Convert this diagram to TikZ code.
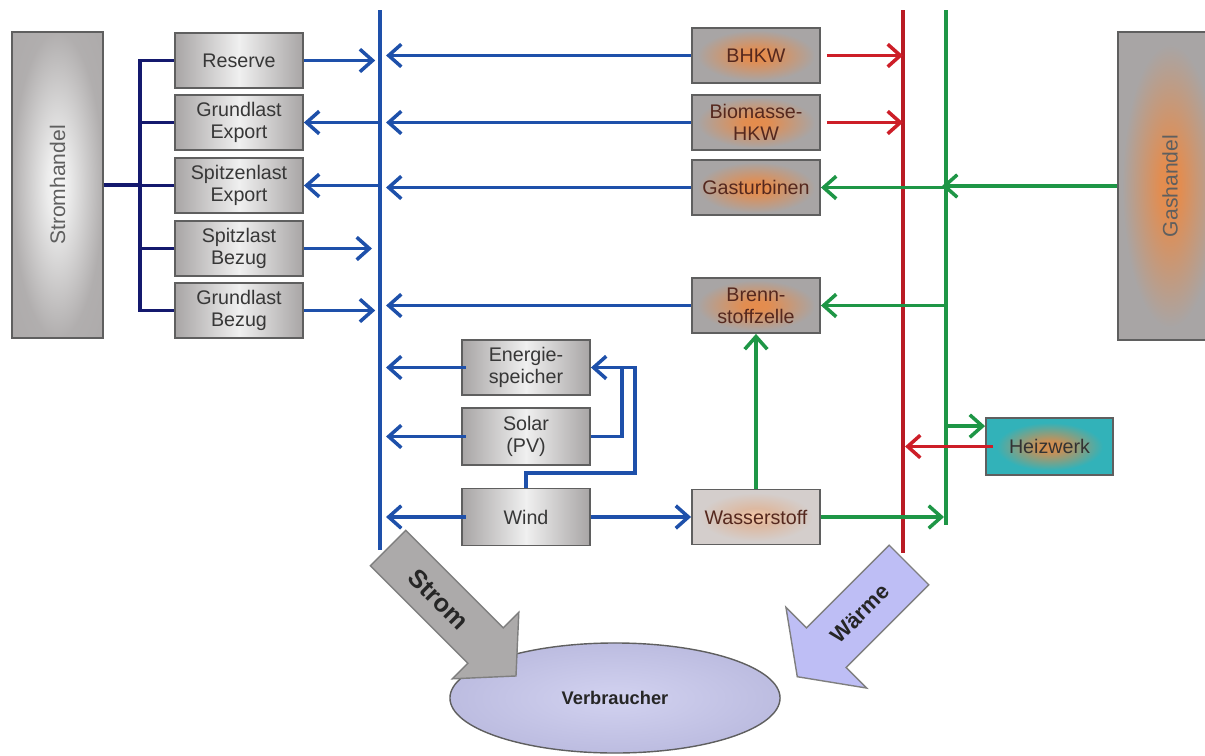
\documentclass[tikz,border=0pt]{standalone}
\usepackage{fontspec}
\setmainfont{Liberation Sans}
\usetikzlibrary{arrows.meta,shapes.geometric}

\definecolor{busblue}{RGB}{30,80,170}
\definecolor{treeblue}{RGB}{20,25,110}
\definecolor{heatred}{RGB}{205,30,40}
\definecolor{gasgreen}{RGB}{30,150,70}
\definecolor{boxgray}{RGB}{168,165,165}
\definecolor{palegray}{RGB}{212,206,204}
\definecolor{boxline}{RGB}{95,95,95}
\definecolor{boxink}{RGB}{55,55,55}
\definecolor{plantink}{RGB}{85,40,30}
\definecolor{glowor}{RGB}{240,135,60}
\definecolor{heizteal}{RGB}{50,178,185}
\definecolor{waermeblue}{RGB}{190,190,245}
\definecolor{verbrblue}{RGB}{195,195,235}

\pgfdeclareradialshading{orangeglow}{\pgfpoint{0bp}{0bp}}{color(0bp)=(glowor!85!boxgray); color(5bp)=(glowor!80!boxgray); color(23bp)=(boxgray); color(50bp)=(boxgray)}
\pgfdeclareradialshading{paleglow}{\pgfpoint{0bp}{0bp}}{color(0bp)=(glowor!45!white); color(8bp)=(glowor!30!palegray); color(22bp)=(palegray); color(50bp)=(palegray)}
\pgfdeclareradialshading{tealglow}{\pgfpoint{0bp}{0bp}}{color(0bp)=(glowor!85!heizteal); color(5bp)=(glowor!80!heizteal); color(21bp)=(heizteal); color(50bp)=(heizteal)}
\pgfdeclareradialshading{greyglow}{\pgfpoint{0bp}{0bp}}{color(0bp)=(white!95!gray); color(6bp)=(white!85!gray); color(25bp)=(boxgray!90!white); color(50bp)=(boxgray)}

\newcommand\boxfont{\fontsize{14}{15.5}\selectfont}

\begin{document}
\begin{tikzpicture}[x=0.025cm, y=-0.025cm,
box/.style={draw=boxline, line width=1.3pt, minimum width=3.2cm, minimum height=1.375cm, inner sep=1pt, align=center, font=\boxfont},
greybox/.style={box, text=boxink, left color=boxgray, right color=boxgray, middle color=white!88!gray},
plantbox/.style={box, text=plantink, shading=orangeglow},
handel/.style={draw=boxline, line width=1.3pt, rotate=90, font=\fontsize{15}{15}\selectfont, text=boxink!80},
bus/.style={line width=2.2pt},
tree/.style={treeblue, line width=2.8pt},
flow/.style={line width=2.5pt, -{Straight Barb[length=9pt,width=16pt]}},
elflow/.style={flow, busblue},
heatflow/.style={flow, heatred},
gasflow/.style={flow, gasgreen},
blockarrow/.style={draw=boxline!80, line width=1pt},
bigtext/.style={font=\bfseries\fontsize{#1}{#1}\selectfont, text=black!85}]

\useasboundingbox (0,0) rectangle (1205,756);

\coordinate (eltop) at (380,10);
\coordinate (elbot) at (380,550);
\coordinate (heattop) at (903,10);
\coordinate (heatbot) at (903,553);
\coordinate (gastop) at (946,10);
\coordinate (gasbot) at (946,525);
\coordinate (split) at (140,185);

\draw[bus, busblue] (eltop) -- (elbot);
\draw[bus, heatred!90!black] (heattop) -- (heatbot);
\draw[bus, gasgreen] (gastop) -- (gasbot);

\node[handel, shading=greyglow, minimum width=7.65cm, minimum height=2.275cm] (stromhandel) at (57.5,185) {Stromhandel};
\node[handel, shading=orangeglow, minimum width=7.7cm, minimum height=2.6cm] (gashandel) at (1170,186) {Gashandel};

\node[greybox] (reserve) at (239,60.5) {Reserve};
\node[greybox] (grexp) at (239,122.5) {Grundlast\\Export};
\node[greybox] (spexp) at (239,185.5) {Spitzenlast\\Export};
\node[greybox] (spbez) at (239,248.5) {Spitzlast\\Bezug};
\node[greybox] (grbez) at (239,310.5) {Grundlast\\Bezug};

\node[plantbox] (bhkw) at (756,55.5) {BHKW};
\node[plantbox] (biohkw) at (756,122.5) {Biomasse-\\HKW};
\node[plantbox] (gasturb) at (756,187.5) {Gasturbinen};
\node[plantbox] (brenn) at (756,305.5) {Brenn-\\stoffzelle};
\node[box, text=plantink, shading=paleglow] (wasser) at (756,517) {Wasserstoff};

\node[greybox] (energie) at (526,367.5) {Energie-\\speicher};
\node[greybox, minimum height=1.425cm] (solar) at (526,436.5) {Solar\\(PV)};
\node[greybox, minimum height=1.425cm] (wind) at (526,517) {Wind};

\node[box, text=black!80, shading=tealglow, minimum height=1.425cm, minimum width=3.175cm] (heizwerk) at (1049.5,446.5) {Heizwerk};

\draw[tree] (stromhandel.south) -- (split);
\foreach \n in {reserve,grexp,spexp,spbez,grbez}
  \draw[tree] (\n.west) -| (split);

\draw[elflow, shorten >=0.12cm] (reserve.east) -- (reserve.east -| eltop);
\draw[elflow] (grexp.east -| eltop) -- (grexp.east);
\draw[elflow] (spexp.east -| eltop) -- (spexp.east);
\draw[elflow, shorten >=0.2cm] (spbez.east) -- (spbez.east -| eltop);
\draw[elflow, shorten >=0.12cm] (grbez.east) -- (grbez.east -| eltop);

\foreach \n in {bhkw,biohkw,gasturb,brenn}
  \draw[elflow, shorten >=0.15cm] (\n.west) -- (\n.west -| eltop);
\foreach \n in {energie,solar,wind}
  \draw[elflow, shorten >=0.15cm, shorten <=-0.12cm] (\n.west) -- (\n.west -| eltop);

\coordinate (windbend) at (635,473);
\coordinate (solarjoin) at (622,367.5);
\draw[busblue, line width=2.5pt] (solar.east) -| (solarjoin);
\draw[elflow] (wind.north) |- (windbend) |- (energie.east);
\draw[elflow] (wind.east) -- (wasser.west);

\draw[heatflow, shorten <=0.15cm] (bhkw.east) -- (bhkw.east -| heattop);
\draw[heatflow, shorten <=0.15cm] (biohkw.east) -- (biohkw.east -| heattop);
\draw[heatflow, shorten >=0.05cm, shorten <=-0.2cm] (heizwerk.west) -- (heizwerk.west -| heattop);

\draw[gasflow, shorten >=-0.1cm] (gashandel.north) -- (gashandel.north -| gastop);
\draw[gasflow] (gasturb.east -| gastop) -- (gasturb.east);
\draw[gasflow] (brenn.east -| gastop) -- (brenn.east);
\draw[gasflow] (wasser.north) -- (brenn.south);
\draw[gasflow, shorten >=0.05cm] (wasser.east) -- (wasser.east -| gastop);
\coordinate (heizin) at ([yshift=-0.225cm]heizwerk.north west);
\draw[gasflow] (heizin -| gastop) -- (heizin);

\node[ellipse, draw=boxline, line width=1pt, inner color=white!25!verbrblue, outer color=verbrblue!90!gray, minimum width=8.25cm, minimum height=2.75cm, bigtext=13] (verbraucher) at (615,698) {Verbraucher};

\begin{scope}[shift={(388,548)}, rotate=-45]
  \draw[blockarrow, fill=boxgray!95!white] (0,-25) -- (138,-25) -- (138,-47) -- (181,0) -- (138,47) -- (138,25) -- (0,25) -- cycle;
  \node[rotate=-45, bigtext=18] (stromlabel) at (72,0) {Strom};
\end{scope}
\begin{scope}[shift={(909,565)}, rotate=-135]
  \draw[blockarrow, fill=waermeblue] (0,-28) -- (117,-28) -- (117,-57) -- (158,0) -- (117,57) -- (117,28) -- (0,28) -- cycle;
  \node[rotate=45, bigtext=15.5] (waermelabel) at (69,0) {Wärme};
\end{scope}

\end{tikzpicture}
\end{document}
